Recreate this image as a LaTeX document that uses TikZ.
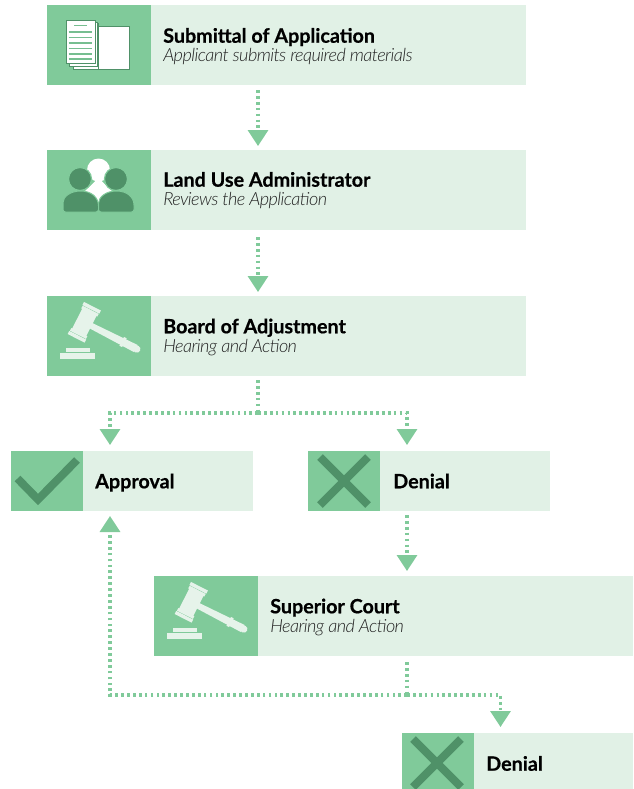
\documentclass[tikz,border=0pt]{standalone}
\usepackage{fontspec}
\setmainfont{Lato}[BoldFeatures={FakeBold=0.6},ItalicFont={Lato Light Italic},ItalicFeatures={LetterSpace=-3.2}]
\usetikzlibrary{arrows.meta}
\definecolor{lightg}{HTML}{E1F1E6}
\definecolor{midg}{HTML}{80CA9A}
\definecolor{darkg}{HTML}{4F9168}
\definecolor{paleg}{HTML}{E6F3EA}
\definecolor{txtg}{HTML}{222222}
\def\px{0.75pt}
\tikzset{
 x=0.75pt,y=-0.75pt,
 panel/.style={rectangle,fill=lightg,anchor=north west,inner sep=0pt,outer sep=0pt,minimum width=#1*\px},
 tall/.style={panel=479,minimum height=80*\px},
 short/.style={panel=242,minimum height=60*\px},
 iconbig/.style={rectangle,fill=midg,anchor=north west,inner sep=0pt,outer sep=0pt,minimum width=104*\px,minimum height=80*\px},
 iconsmall/.style={rectangle,fill=midg,anchor=north west,inner sep=0pt,outer sep=0pt,minimum width=72*\px,minimum height=60*\px},
 titletext/.style={anchor=base west,inner sep=0pt,font=\fontsize{14.8}{18}\selectfont\bfseries,text=black},
 subtext/.style={anchor=base west,inner sep=0pt,font=\fontsize{13.6}{16}\selectfont\itshape,text=txtg},
 link/.style={midg,line width=3.2*\px,dash pattern=on 2.7*\px off 3.2*\px},
 tipped/.style={link,-{Triangle[length=16*\px,width=20*\px]}},
 markstroke/.style={darkg,line width=8*\px},
 gavel/.pic={
  \fill[paleg] (13,56.5) rectangle (48,62.5);
  \fill[paleg] (18.7,52.3) rectangle (43,55.7);
  \begin{scope}[shift={(37.3,26.3)},rotate=-27]
   \fill[paleg] (7,-3) -- (58,-4) -- (58,4) -- (7,3) -- cycle;
   \fill[paleg] (42,-5) rectangle (45,5);
   \fill[paleg] (59,0) circle[radius=3.6];
   \fill[paleg] (-8,-13) rectangle (8,13);
   \fill[paleg] (-9.5,-18) rectangle (9.5,-14.5);
   \fill[paleg] (-9.5,14.5) rectangle (9.5,18);
   \fill[paleg] (-9,-14) rectangle (9,-11);
   \fill[paleg] (-9,11) rectangle (9,14);
  \end{scope}
 },
}
\begin{document}
\begin{tikzpicture}
\path[use as bounding box] (0,0) rectangle (633,789);
\clip (0,0) rectangle (633,789);
\fill[white] (0,0) rectangle (633,789);
% panels
\node[tall] (submit) at (47,5) {};
\node[iconbig] (submiticon) at (47,5) {};
\node[tall] (admin) at (47,150) {};
\node[iconbig] (adminicon) at (47,150) {};
\node[tall] (board) at (47,296) {};
\node[iconbig] (boardicon) at (47,296) {};
\node[short] (approval) at (11,451) {};
\node[iconsmall] (approvalicon) at (11,451) {};
\node[short] (denial) at (308,451) {};
\node[iconsmall] (denialicon) at (308,451) {};
\node[tall] (court) at (154,576) {};
\node[iconbig] (courticon) at (154,576) {};
\node[panel=231,minimum height=56*\px] (final) at (402,733) {};
\node[rectangle,fill=midg,anchor=north west,inner sep=0pt,minimum width=72*\px,minimum height=56*\px] (finalicon) at (402,733) {};
% texts
\node[titletext] (t1) at (163,42.7) {Submittal of Application};
\node[subtext] (s1) at (163,61.7) {Applicant submits required materials};
\node[titletext] (t2) at (163,186.7) {Land Use Administrator};
\node[subtext] (s2) at (163,205.7) {Reviews the Application};
\node[titletext] (t3) at (163,333.3) {Board of Adjustment};
\node[subtext] (s3) at (163,352.7) {Hearing and Action};
\node[titletext] (t4) at (95,488.3) {Approval};
\node[titletext] (t5) at (393,488.3) {Denial};
\node[titletext] (t6) at (270,613.3) {Superior Court};
\node[subtext] (s6) at (270,632.7) {Hearing and Action};
\node[titletext] (t7) at (486,770.7) {Denial};
% document icon
\filldraw[fill=white,draw=darkg,line width=0.6*\px] (90,26) rectangle (129,69);
\filldraw[fill=white,draw=darkg,line width=0.6*\px] (73,23) rectangle (98,69);
\filldraw[fill=white,draw=darkg,line width=0.6*\px] (69.5,22) rectangle (97,66);
\filldraw[fill=white,draw=darkg,line width=0.6*\px] (66,20) rectangle (95,63);
\foreach \yy in {32,37.5,43,48.5,54,59} \draw[midg!80!darkg,line width=1.1*\px] (68.5,\yy) -- (92,\yy);
\draw[midg!80!darkg,line width=1.1*\px] (74,25.7) -- (87,25.7);
% people icon
\fill[white] (98.5,170) circle[radius=11.5];
\fill[white] (98.5,178) -- (116,195) -- (98.5,204) -- (81,195) -- cycle;
\draw[midg,line width=1.2*\px,fill=darkg] (80,179) circle[radius=11.5];
\draw[midg,line width=1.2*\px,fill=darkg] (116,179) circle[radius=11.5];
\draw[midg,line width=1*\px,fill=darkg,rounded corners=2.5*\px] (63,212) -- (63,205) [sharp corners] .. controls (63,197) and (70,191) .. (80.5,191) .. controls (91,191) and (98.5,197) .. (98.5,206) [rounded corners=2.5*\px] -- (98.5,212) -- cycle;
\draw[midg,line width=1*\px,fill=darkg,rounded corners=2.5*\px] (98.5,212) -- (98.5,206) [sharp corners] .. controls (98.5,197) and (106,191) .. (116.5,191) .. controls (127,191) and (134,197) .. (134,205) [rounded corners=2.5*\px] -- (134,212) -- cycle;
% gavels
\pic at (47,296) {gavel};
\pic at (154,576) {gavel};
% check and crosses
\draw[markstroke] (17.5,478.5) -- (38,499.5) -- (77,460);
\draw[markstroke] (320,457) -- (368,505);
\draw[markstroke] (368,457) -- (320,505);
\draw[markstroke] (413,739) -- (461,787);
\draw[markstroke] (461,739) -- (413,787);
% connector ends
\coordinate (submitout) at (258,84);
\coordinate (adminin) at (258,150);
\coordinate (adminout) at (258,230);
\coordinate (boardin) at (258,296);
\coordinate (boardout) at (258,376);
\coordinate (split) at (258,413);
\coordinate (approvalin) at (110,451);
\coordinate (denialin) at (407,451);
\coordinate (approvalback) at (110,510);
\coordinate (denialout) at (407,510);
\coordinate (courtin) at (407,576);
\coordinate (courtout) at (407,656);
\coordinate (courtsplit) at (407,695);
\coordinate (finalin) at (500.5,733);
% connectors
\draw[tipped,shorten <=6*\px,shorten >=4*\px] (submitout) -- (adminin);
\draw[tipped,shorten <=7*\px,shorten >=4*\px] (adminout) -- (boardin);
\draw[link,shorten <=4*\px] (boardout) -- (split);
\draw[tipped,shorten >=6*\px] (split) -| (approvalin);
\draw[tipped,shorten >=6*\px] (split) -| (denialin);
\draw[tipped,shorten <=5*\px,shorten >=5*\px] (denialout) -- (courtin);
\draw[link,shorten <=6*\px] (courtout) -- (courtsplit);
\draw[tipped,shorten >=6*\px] (courtsplit) -| (finalin);
\draw[tipped,shorten >=6*\px] (courtsplit) -| (approvalback);
\end{tikzpicture}
\end{document}
